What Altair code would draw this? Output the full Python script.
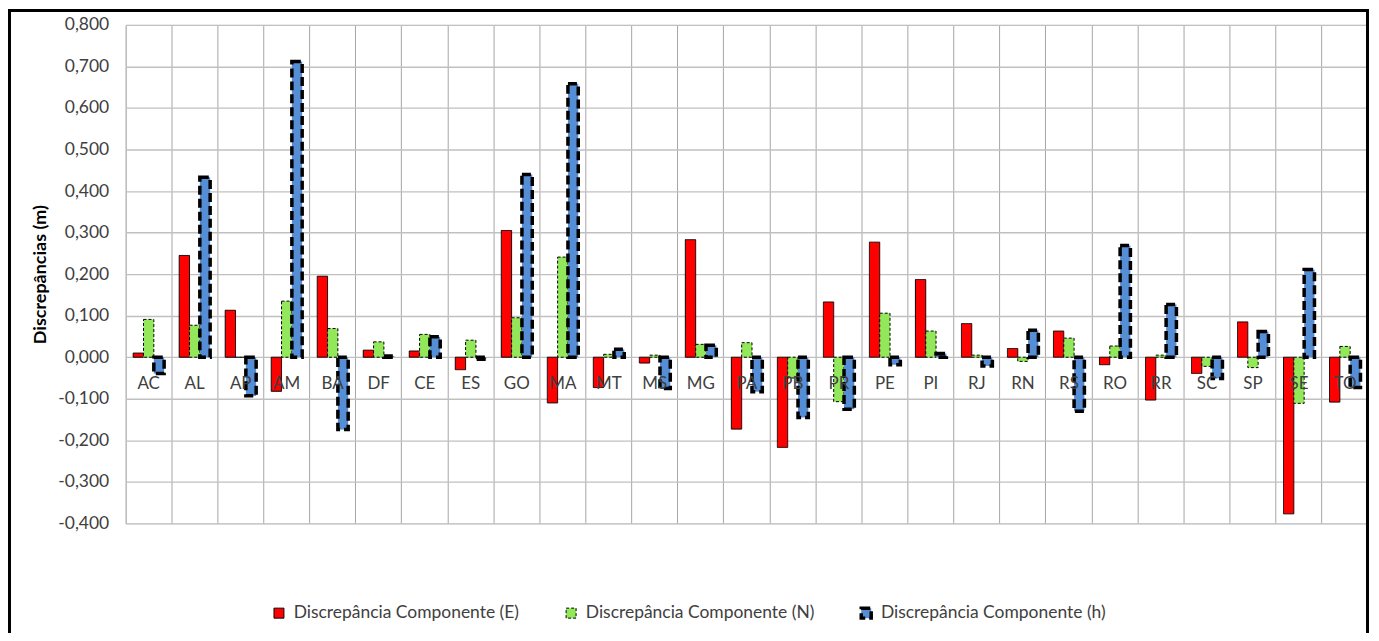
import altair as alt
import pandas as pd

cats = ["AC", "AL", "AP", "AM", "BA", "DF", "CE", "ES", "GO", "MA", "MT", "MS", "MG", "PA",
        "PB", "PR", "PE", "PI", "RJ", "RN", "RS", "RO", "RR", "SC", "SP", "SE", "TO"]
series = ["Discrepância Componente (E)", "Discrepância Componente (N)", "Discrepância Componente (h)"]

comp_E = [0.010, 0.245, 0.113, -0.082, 0.195, 0.017, 0.015, -0.030, 0.305, -0.110, -0.073, -0.014, 0.283, -0.173,
          -0.217, 0.133, 0.277, 0.187, 0.081, 0.021, 0.063, -0.018, -0.103, -0.039, 0.085, -0.377, -0.108]
comp_N = [0.091, 0.077, 0.000, 0.135, 0.069, 0.037, 0.055, 0.041, 0.095, 0.241, 0.007, 0.005, 0.031, 0.035,
          -0.050, -0.107, 0.106, 0.063, 0.005, -0.010, 0.046, 0.027, 0.005, -0.022, -0.025, -0.111, 0.026]
comp_h = [-0.039, 0.433, -0.093, 0.712, -0.174, 0.003, 0.049, -0.005, 0.440, 0.658, 0.019, -0.075, 0.029, -0.083,
          -0.145, -0.125, -0.018, 0.009, -0.021, 0.065, -0.130, 0.269, 0.127, -0.051, 0.062, 0.211, -0.073]

y_ticks = [-0.4, -0.3, -0.2, -0.1, 0.0, 0.1, 0.2, 0.3, 0.4, 0.5, 0.6, 0.7, 0.8]

rows = []
for s, vals in zip(series, [comp_E, comp_N, comp_h]):
    for c, v in zip(cats, vals):
        rows.append({"cat": c, "serie": s, "val": v})
df = pd.DataFrame(rows)
lab_df = pd.DataFrame({"cat": cats})

FONT = "Lato"
TXT = "#404040"

x_enc = alt.X("cat:N", sort=cats, title=None,
              scale=alt.Scale(paddingInner=0, paddingOuter=0),
              axis=alt.Axis(labels=False, ticks=False, domain=False, grid=True,
                            bandPosition=0, gridColor="#A6A6A6", gridWidth=1))
y_enc = alt.Y("val:Q", title="Discrepâncias (m)",
              scale=alt.Scale(domain=[-0.4, 0.8], nice=False),
              axis=alt.Axis(values=y_ticks, ticks=False, domain=False, grid=True,
                            gridColor="#C0C0C0", gridWidth=1.3,
                            labelExpr="(datum.value < -0.0001 ? '-' : '') + replace(format(abs(datum.value), '.3f'), '.', ',')",
                            labelFont=FONT, labelFontSize=17.5, labelColor=TXT, labelPadding=17,
                            titleFont=FONT, titleFontSize=18, titleFontWeight="bold", titleColor="#000000",
                            titlePadding=8))

bars = alt.Chart(df).mark_bar(stroke="black").encode(
    x=x_enc,
    xOffset=alt.XOffset("serie:N", sort=series,
                        scale=alt.Scale(domain=series, paddingInner=0, paddingOuter=0.73)),
    y=y_enc,
    color=alt.Color("serie:N", sort=series,
                    scale=alt.Scale(domain=series, range=["#FF0000", "#92E85A", "#558ED5"]),
                    legend=alt.Legend(title=None, orient="none", legendX=145, legendY=580,
                                      direction="horizontal", symbolType="square", symbolSize=100,
                                      symbolStrokeColor="black", symbolStrokeWidth=1,
                                      clipHeight=20,
                                      labelFont=FONT, labelFontSize=17.5, labelColor=TXT,
                                      labelOffset=6, columnPadding=43, labelLimit=400)),
    strokeDash=alt.StrokeDash("serie:N", sort=series,
                              scale=alt.Scale(type="ordinal", domain=series, range=[[1, 0], [3, 2], [9, 4]]),
                              legend=None),
    strokeWidth=alt.StrokeWidth("serie:N", sort=series,
                                scale=alt.Scale(type="ordinal", domain=series, range=[1, 1, 3.5]),
                                legend=None),
)

labels = alt.Chart(lab_df).mark_text(font=FONT, fontSize=17, color=TXT, baseline="alphabetic", dy=32).encode(
    x=alt.X("cat:N", sort=cats),
    y=alt.datum(0),
    text="cat:N",
)

frame = alt.Chart(alt.Data(values=[{}])).mark_rect(fill=None, stroke="black", strokeWidth=3).encode(
    x=alt.value(-116.5), x2=alt.value(1245.5), y=alt.value(-14.5), y2=alt.value(640)
)

chart = alt.layer(bars, labels, frame).properties(
    width=1246, height=500,
    autosize=alt.AutoSizeParams(type="none"),
    padding={"left": 118, "top": 16, "right": 3, "bottom": 109},
).configure_view(stroke=None).configure(font=FONT)

chart.save("out.html", embed_options={"renderer": "svg", "actions": False})
